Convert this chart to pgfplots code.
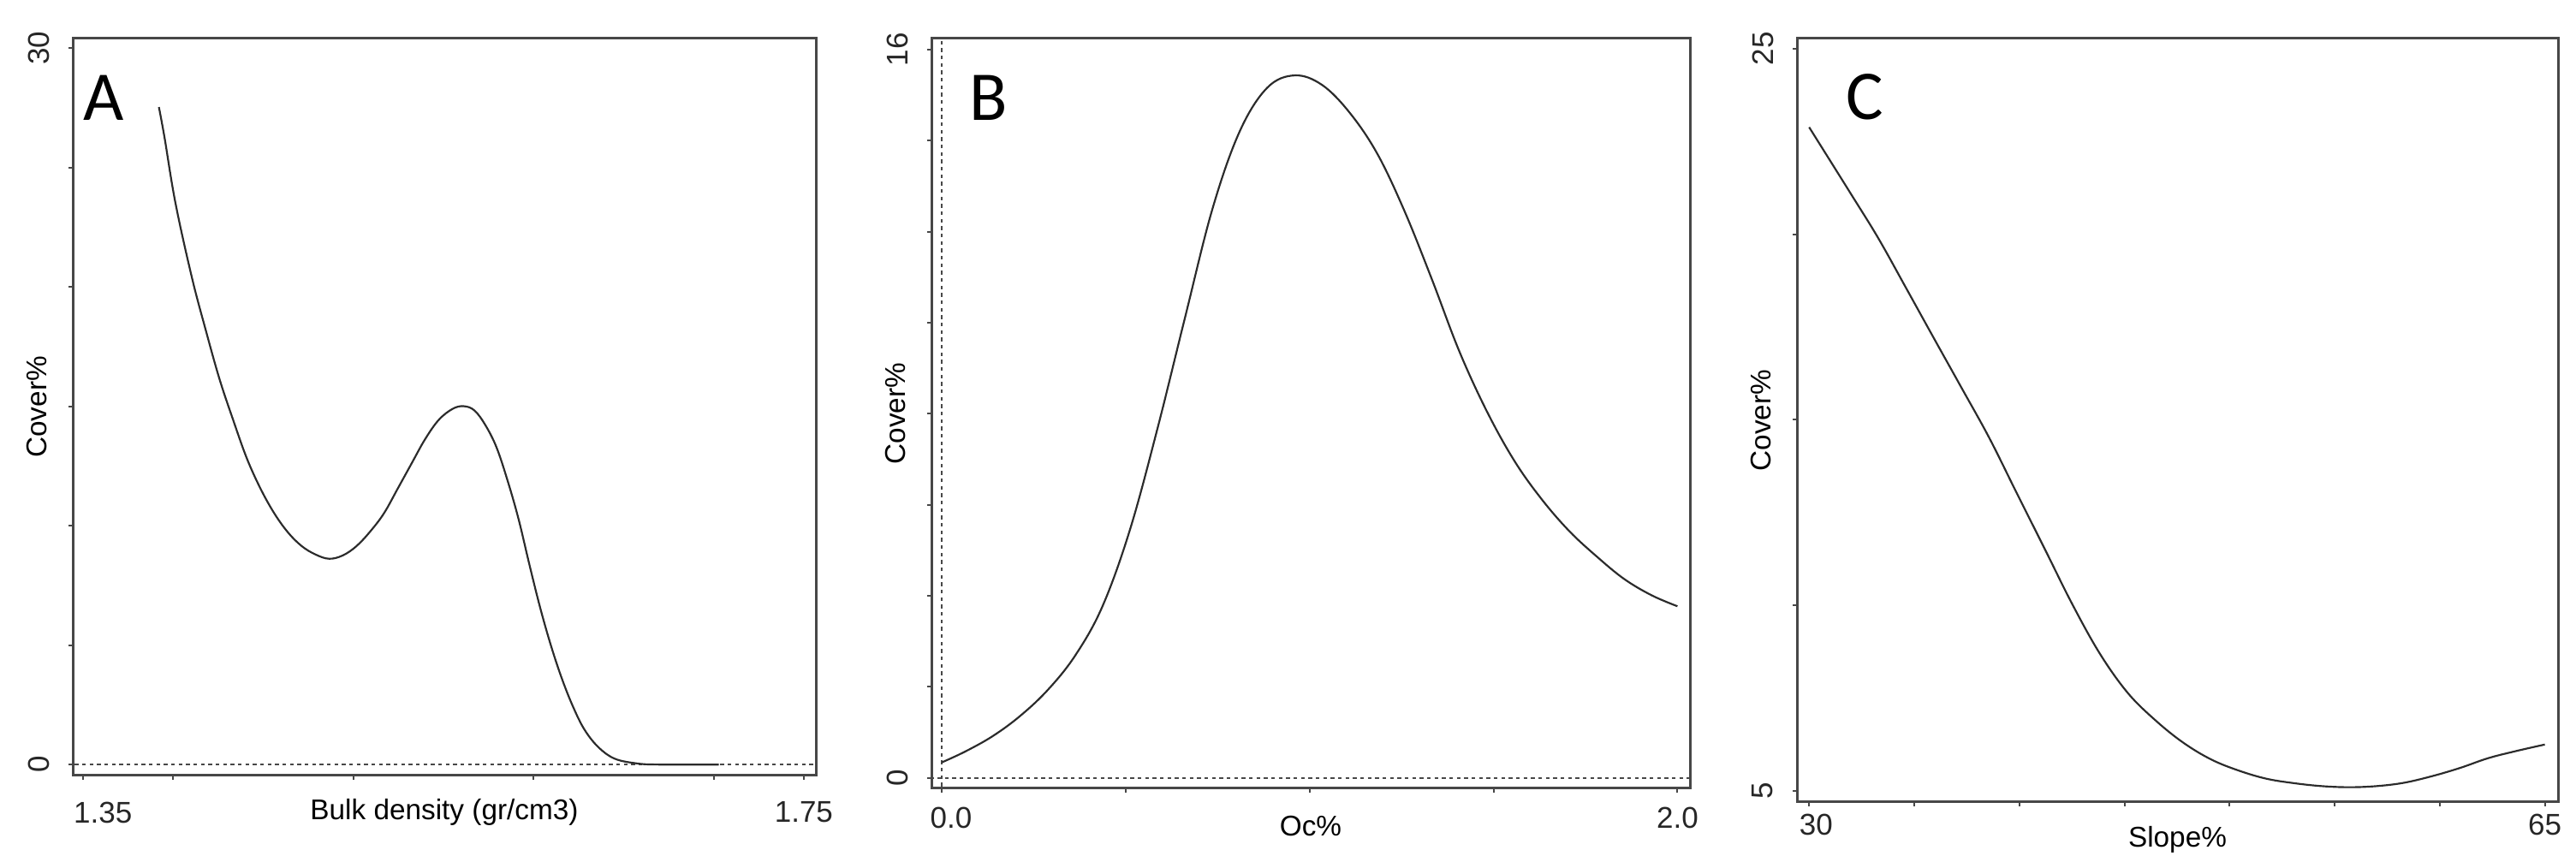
\documentclass[border=0pt]{standalone}
\usepackage{fontspec}
\setmainfont{Liberation Sans}
\newfontfamily\panelfont{Carlito}
\usepackage{pgfplots}
\pgfplotsset{compat=1.18}

\definecolor{curvecol}{HTML}{2B2B2B}
\definecolor{framecol}{HTML}{474747}

\pgfplotsset{
  panel/.style={
    scale only axis,
    clip=true,
    axis line style={framecol, line width=0.9pt},
    tick style={framecol, line width=0.6pt},
    tick align=outside,
    major tick length=1.5pt,
    xtick pos=bottom, ytick pos=left,
    tick label style={font=\fontsize{10.5}{12}\selectfont, text=black!85},
    label style={font=\fontsize{11.2}{13}\selectfont, text=black!85},
    xticklabel style={anchor=center},
    yticklabel style={xshift=-10.5pt, rotate=90, anchor=center},
    every axis y label/.style={at={(axis description cs:0,0.5)}, xshift=-12.6pt, rotate=90, anchor=center},
    ylabel={Cover\%},
  },
  fitline/.style={curvecol, line width=0.65pt, smooth, tension=0.6, no marks},
  zeroline/.style={framecol, line width=0.6pt, dash pattern=on 1.3pt off 1.3pt, no marks},
}

\begin{document}
\begin{tikzpicture}
\useasboundingbox (0,0) rectangle (902.7pt,302.1pt);

% A: bulk density
\begin{axis}[panel,
  at={(25.5pt,30.3pt)}, anchor=south west,
  width=260.4pt, height=258.3pt,
  xmin=1.3442, xmax=1.7567, ymin=-0.46, ymax=30.41,
  xtick={1.35,1.4,1.5,1.6,1.7,1.75},
  xticklabels={\hspace{13.8pt}1.35,,,,,1.75\hspace{13.8pt}},
  ytick={0,5,10,15,20,25,30}, yticklabels={0,,,,,,30\hspace{6pt}},
  xticklabel style={yshift=-11.4pt},
  xlabel={Bulk density (gr/cm3)},
  every axis x label/.style={at={(axis description cs:0.5,0)}, yshift=-12.9pt, anchor=center},
]
\addplot[zeroline] coordinates {(1.30,0) (1.80,0)};
\addplot[fitline] coordinates {
  (1.3920,27.54) (1.3951,26.28) (1.4012,23.52) (1.4103,20.41) (1.4179,18.23)
  (1.4256,16.16) (1.4332,14.44) (1.4408,12.83) (1.4484,11.56) (1.4560,10.53)
  (1.4637,9.72) (1.4713,9.15) (1.4789,8.80) (1.4865,8.62) (1.4941,8.76)
  (1.5017,9.15) (1.5094,9.77) (1.5170,10.53) (1.5246,11.56) (1.5322,12.60)
  (1.5398,13.63) (1.5474,14.44) (1.5551,14.90) (1.5612,15.01) (1.5672,14.83)
  (1.5733,14.21) (1.5794,13.29) (1.5855,11.91) (1.5916,10.30) (1.5977,8.37)
  (1.6038,6.53) (1.6099,4.92) (1.6160,3.54) (1.6221,2.39) (1.6282,1.47)
  (1.6358,0.74) (1.6449,0.25) (1.6571,0.05) (1.6693,0) (1.7028,0)
};
\node[font=\panelfont\fontsize{24.5}{26}\selectfont] at (axis description cs:0.0415,0.92) {A};
\end{axis}

% B: organic carbon
\begin{axis}[panel,
  at={(326.4pt,25.8pt)}, anchor=south west,
  width=265.8pt, height=262.8pt,
  xmin=-0.028, xmax=2.034, ymin=-0.23, ymax=16.24,
  xtick={0,0.5,1,1.5,2},
  xticklabels={\hspace{6.6pt}0.0,,,,2.0\hspace{9pt}},
  ytick={0,2,4,6,8,10,12,14,16}, yticklabels={0,,,,,,,,16\hspace{5pt}},
  xticklabel style={yshift=-8.7pt},
  xlabel={Oc\%},
  every axis x label/.style={at={(axis description cs:0.5,0)}, yshift=-13.2pt, anchor=center},
]
\addplot[zeroline] coordinates {(-1,0) (3,0)};
\addplot[zeroline] coordinates {(0,-1) (0,20)};
\addplot[fitline] coordinates {
  (0,0.34) (0.064,0.58) (0.139,0.92) (0.213,1.36) (0.288,1.93)
  (0.363,2.69) (0.437,3.77) (0.512,5.46) (0.587,7.69) (0.661,10.10)
  (0.736,12.5) (0.810,14.2) (0.885,15.16) (0.960,15.43) (1.034,15.22)
  (1.109,14.61) (1.184,13.71) (1.258,12.45) (1.333,10.94) (1.407,9.37)
  (1.482,8.05) (1.557,6.96) (1.631,6.12) (1.706,5.42) (1.781,4.86)
  (1.855,4.37) (1.930,4.01) (2.0,3.77)
};
\node[font=\panelfont\fontsize{24.5}{26}\selectfont] at (axis description cs:0.0756,0.921) {B};
\end{axis}

% C: slope
\begin{axis}[panel,
  at={(629.7pt,21pt)}, anchor=south west,
  width=266.7pt, height=267.6pt,
  xmin=29.42, xmax=65.63, ymin=4.70, ymax=25.27,
  xtick={30,35,40,45,50,55,60,65},
  xticklabels={\hspace{4.8pt}30,,,,,,,65\hspace{4.2pt}},
  ytick={5,10,15,20,25}, yticklabels={5,,,,25\hspace{6.6pt}},
  xticklabel style={yshift=-6.3pt},
  xlabel={Slope\%},
  every axis x label/.style={at={(axis description cs:0.5,0)}, yshift=-13.2pt, anchor=center},
]
\addplot[fitline] coordinates {
  (30,22.88) (31.98,21.09) (33.29,19.89) (34.61,18.55) (35.93,17.2)
  (37.25,15.86) (38.57,14.51) (39.88,13.02) (41.2,11.53) (42.52,10.03)
  (43.84,8.69) (45.16,7.64) (46.48,6.9) (47.8,6.30) (49.12,5.85)
  (50.43,5.55) (51.75,5.33) (53.06,5.21) (54.38,5.13) (55.7,5.10)
  (57.0,5.13) (58.3,5.22) (59.65,5.40) (60.97,5.62) (62.29,5.88)
  (63.6,6.07) (65,6.25)
};
\node[font=\panelfont\fontsize{24.5}{26}\selectfont] at (axis description cs:0.0889,0.924) {C};
\end{axis}
\end{tikzpicture}
\end{document}
